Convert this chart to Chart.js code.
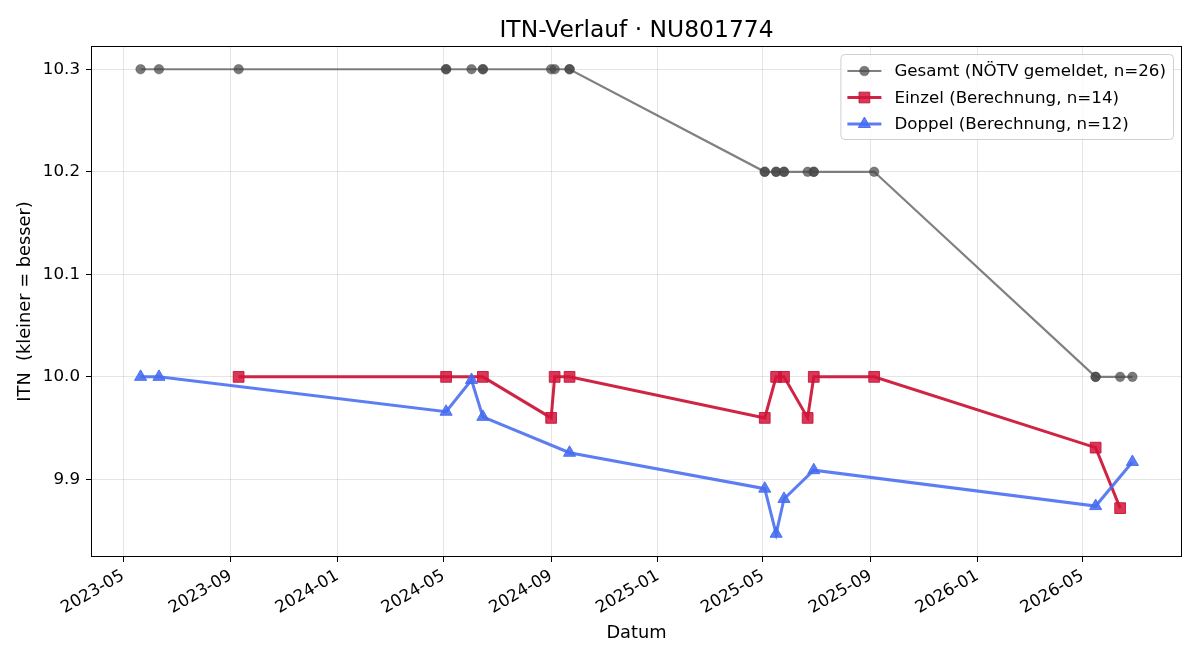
<!DOCTYPE html>
<html>
<head>
<meta charset="utf-8">
<script src="https://cdn.jsdelivr.net/npm/chart.js@4.4.1/dist/chart.umd.min.js"></script>
<style>
  html, body { margin: 0; padding: 0; background: #fff; }
  #wrap { width: 1200px; height: 660px; }
</style>
</head>
<body>
<div id="wrap"><canvas id="itn-chart" width="1200" height="660"></canvas></div>
<script>
const TITLE = 'ITN-Verlauf · NU801774'
const X_TITLE = 'Datum'
const Y_TITLE = 'ITN  (kleiner = besser)'

const GESAMT_LABEL = 'Gesamt (NÖTV gemeldet, n=26)'
const GESAMT_DATES = [
  '2023-05-21', '2023-06-11', '2023-09-10', '2024-05-04', '2024-05-04', '2024-06-02',
  '2024-06-15', '2024-06-15', '2024-09-01', '2024-09-05', '2024-09-22', '2024-09-22',
  '2025-05-03', '2025-05-03', '2025-05-16', '2025-05-16', '2025-05-25', '2025-05-25',
  '2025-06-21', '2025-06-28', '2025-06-28', '2025-09-05',
  '2026-05-16', '2026-05-16', '2026-06-13', '2026-06-27'
]
const GESAMT_ITN = [
  10.3, 10.3, 10.3, 10.3, 10.3, 10.3, 10.3, 10.3, 10.3, 10.3, 10.3, 10.3,
  10.2, 10.2, 10.2, 10.2, 10.2, 10.2, 10.2, 10.2, 10.2, 10.2,
  10.0, 10.0, 10.0, 10.0
]

const EINZEL_LABEL = 'Einzel (Berechnung, n=14)'
const EINZEL_DATES = [
  '2023-09-10', '2024-05-04', '2024-06-15', '2024-09-01', '2024-09-05', '2024-09-22',
  '2025-05-03', '2025-05-16', '2025-05-25', '2025-06-21', '2025-06-28', '2025-09-05',
  '2026-05-16', '2026-06-13'
]
const EINZEL_ITN = [10.0, 10.0, 10.0, 9.96, 10.0, 10.0, 9.96, 10.0, 10.0, 9.96, 10.0, 10.0, 9.931, 9.872]

const DOPPEL_LABEL = 'Doppel (Berechnung, n=12)'
const DOPPEL_DATES = [
  '2023-05-21', '2023-06-11', '2024-05-04', '2024-06-02', '2024-06-15', '2024-09-22',
  '2025-05-03', '2025-05-16', '2025-05-25', '2025-06-28', '2026-05-16', '2026-06-27'
]
const DOPPEL_ITN = [10.0, 10.0, 9.966, 9.997, 9.961, 9.926, 9.891, 9.847, 9.881, 9.909, 9.874, 9.917]

const X_TICKS = ['2023-05', '2023-09', '2024-01', '2024-05', '2024-09', '2025-01', '2025-05', '2025-09', '2026-01', '2026-05']
const Y_TICKS = [9.9, 10.0, 10.1, 10.2, 10.3]

const FONT = '"DejaVu Sans", "Liberation Sans", sans-serif'
const FS = 16.7
const FS_LABEL = 17.8
const FS_TITLE = 23.4

// 'YYYY-MM-DD' or 'YYYY-MM' -> ms timestamp (UTC)
function toTs(s) {
  const [y, m, d] = s.split('-').map(Number)
  return Date.UTC(y, m - 1, d || 1)
}
const pts = (dates, vals) => dates.map((d, i) => ({ x: toTs(d), y: vals[i] }))
const pad2 = n => String(n).padStart(2, '0')

// matplotlib-like 5% margins
function bounds(values) {
  const lo = Math.min(...values), hi = Math.max(...values)
  const m = (hi - lo) * 0.05
  return [lo - m, hi + m]
}
const allX = [...GESAMT_DATES, ...EINZEL_DATES, ...DOPPEL_DATES].map(toTs)
const allY = [...GESAMT_ITN, ...EINZEL_ITN, ...DOPPEL_ITN]
const [xMin, xMax] = bounds(allX)
const [yMin, yMax] = bounds(allY)

// frame around plot area (spines) + title centred over the plot
const framePlugin = {
  id: 'frame',
  afterDatasetsDraw(chart) {
    const { ctx, chartArea: a } = chart
    ctx.save()
    ctx.strokeStyle = '#000'
    ctx.lineWidth = 1
    const l = Math.round(a.left) + 0.5, t = Math.round(a.top) + 0.5
    const r = Math.round(a.right) - 0.5, b = Math.round(a.bottom) - 0.5
    ctx.strokeRect(l, t, r - l, b - t)

    ctx.fillStyle = '#000'
    ctx.font = `${FS_TITLE}px ${FONT}`
    ctx.textAlign = 'center'
    ctx.textBaseline = 'alphabetic'
    ctx.fillText(TITLE, (a.left + a.right) / 2, 36.5)
    ctx.restore()
  }
}

// legend box in upper right corner of the plot
const legendPlugin = {
  id: 'boxLegend',
  afterDraw(chart) {
    const { ctx, chartArea: a } = chart
    const sets = chart.data.datasets
    ctx.save()
    ctx.font = `${FS}px ${FONT}`
    const textW = Math.max(...sets.map(d => ctx.measureText(d.label).width))
    const rowH = 26.5
    const w = 54 + textW + 7
    const h = 17 + (sets.length - 1) * rowH + 15
    const x = a.right - 9 - w
    const y = a.top + 8
    ctx.beginPath()
    ctx.roundRect(x + 0.5, y + 0.5, w, h, 4)
    ctx.fillStyle = 'rgba(255,255,255,0.8)'
    ctx.fill()
    ctx.strokeStyle = '#d0d0d0'
    ctx.lineWidth = 1
    ctx.stroke()

    sets.forEach((d, i) => {
      const cy = y + 17 + i * rowH
      ctx.beginPath()
      ctx.moveTo(x + 7, cy)
      ctx.lineTo(x + 41, cy)
      ctx.strokeStyle = d.borderColor
      ctx.lineWidth = d.borderWidth
      ctx.stroke()
      ctx.fillStyle = d.pointBackgroundColor
      ctx.strokeStyle = d.pointBorderColor
      ctx.lineWidth = d.pointBorderWidth
      Chart.helpers.drawPoint(ctx, { pointStyle: d.pointStyle, radius: d.pointRadius, borderWidth: d.pointBorderWidth }, x + 24, cy)
      ctx.fillStyle = '#000'
      ctx.textBaseline = 'middle'
      ctx.textAlign = 'left'
      ctx.fillText(d.label, x + 54, cy + 1)
    })
    ctx.restore()
  }
}

Chart.defaults.font.family = FONT
Chart.defaults.font.size = FS
Chart.defaults.color = '#000'

new Chart(document.getElementById('itn-chart'), {
  type: 'line',
  data: {
    datasets: [
      {
        label: GESAMT_LABEL,
        data: pts(GESAMT_DATES, GESAMT_ITN),
        borderColor: 'rgba(85,85,85,0.75)',
        borderWidth: 2.2,
        pointStyle: 'circle',
        pointRadius: 4.8,
        pointBackgroundColor: 'rgba(70,70,70,0.72)',
        pointBorderColor: 'rgba(70,70,70,0.72)',
        pointBorderWidth: 0.5,
        order: 3,
      },
      {
        label: EINZEL_LABEL,
        data: pts(EINZEL_DATES, EINZEL_ITN),
        borderColor: 'rgba(204,24,58,0.95)',
        borderWidth: 3,
        pointStyle: 'rect',
        pointRadius: 7.6,
        pointBackgroundColor: 'rgba(212,20,58,0.85)',
        pointBorderColor: 'rgba(200,20,55,0.9)',
        pointBorderWidth: 1,
        order: 2,
      },
      {
        label: DOPPEL_LABEL,
        data: pts(DOPPEL_DATES, DOPPEL_ITN),
        borderColor: 'rgba(70,108,240,0.88)',
        borderWidth: 3,
        pointStyle: 'triangle',
        pointRadius: 7,
        pointBackgroundColor: 'rgba(70,108,240,0.88)',
        pointBorderColor: 'rgba(70,108,240,0.9)',
        pointBorderWidth: 1,
        order: 1,
      },
    ]
  },
  options: {
    responsive: false,
    animation: false,
    devicePixelRatio: 1,
    layout: { padding: { left: 0, right: 18, top: 46, bottom: 0 } },
    plugins: {
      legend: { display: false },
      tooltip: { enabled: false },
      title: { display: false },
    },
    scales: {
      x: {
        type: 'linear',
        min: xMin,
        max: xMax,
        afterBuildTicks: s => { s.ticks = X_TICKS.map(t => ({ value: toTs(t) })) },
        afterFit: s => { s.height = 103 },
        ticks: {
          autoSkip: false,
          minRotation: 30,
          maxRotation: 30,
          padding: 4,
          font: { size: FS },
          callback: v => { const d = new Date(v); return d.getUTCFullYear() + '-' + pad2(d.getUTCMonth() + 1) },
        },
        grid: { color: 'rgba(0,0,0,0.1)', tickColor: '#000', tickLength: 5, lineWidth: 1 },
        border: { display: false },
        title: { display: true, text: X_TITLE, font: { size: FS_LABEL }, padding: { top: 0, bottom: 16 } },
      },
      y: {
        type: 'linear',
        min: yMin,
        max: yMax,
        afterBuildTicks: s => { s.ticks = Y_TICKS.map(v => ({ value: v })) },
        afterFit: s => { s.width = 91 },
        ticks: {
          padding: 6,
          font: { size: FS },
          callback: v => v.toFixed(1),
        },
        grid: { color: 'rgba(0,0,0,0.1)', tickColor: '#000', tickLength: 5, lineWidth: 1 },
        border: { display: false },
        title: { display: true, text: Y_TITLE, font: { size: FS_LABEL }, padding: { top: 15, bottom: 0 } },
      },
    },
  },
  plugins: [framePlugin, legendPlugin],
})
</script>
</body>
</html>
